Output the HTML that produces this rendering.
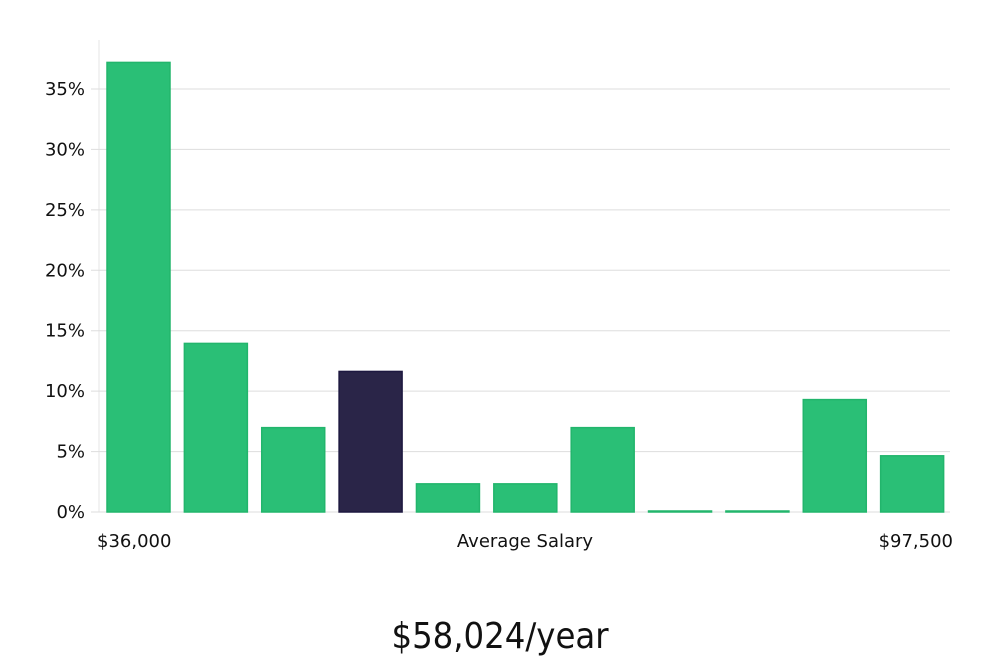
<!DOCTYPE html>
<html><head><meta charset="utf-8"><style>
body{margin:0;background:#fff;width:1000px;height:660px;overflow:hidden;font-family:"DejaVu Sans","Liberation Sans",sans-serif}
</style></head><body>
<svg width="1000" height="660">
<g id="grid"></g><g id="bars"></g><g id="labels"></g>
<text x="500" y="648" text-anchor="middle" font-size="36" fill="#111" font-family="DejaVu Sans Condensed, DejaVu Sans, sans-serif">$58,024/year</text>
</svg>
<script>
const categories=["b1","b2","b3","b4","b5","b6","b7","b8","b9","b10","b11"];
const values=[37.2,13.95,6.98,11.63,2.33,2.33,6.98,0,0,9.3,4.65];
const highlight=[false,false,false,true,false,false,false,false,false,false,false];
const yTicks=[0,5,10,15,20,25,30,35];
const yTickLabels=["0%","5%","10%","15%","20%","25%","30%","35%"];
const xLabels=["$36,000","Average Salary","$97,500"];
const NS="http://www.w3.org/2000/svg";
const x0=99,x1=950,y0=512,pxPer=(512-89)/35;
const y=v=>y0-v*pxPer;
const step=(x1-x0)/categories.length, bw=63;
function mk(t,a,p){const e=document.createElementNS(NS,t);for(const k in a)e.setAttribute(k,a[k]);p.appendChild(e);return e;}
const g=document.getElementById('grid'),b=document.getElementById('bars'),l=document.getElementById('labels');
const ax=mk('line',{x1:x0,x2:x0,y1:40,y2:y0,stroke:'#e5e5e5'},g);

yTicks.forEach((t,i)=>{
 const ln=mk('line',{x1:x0-8,x2:x1,y1:y(t),y2:y(t),stroke:'#dddddd'},g);
 
 const tx=mk('text',{x:85,y:y(t)+6,'text-anchor':'end','font-size':18,fill:'#111'},l);
 tx.textContent=yTickLabels[i];
 
});
categories.forEach((c,i)=>{
 const xs=x0+8+i*step, h=Math.max(1,values[i]*pxPer);
 const r=mk('rect',{x:xs,y:y0-h,width:bw,height:h,fill:highlight[i]?'#2a2548':'#2abf76',stroke:highlight[i]?'#1d1840':'#22b56c','stroke-width':1.5},b);
 
});
const xl=[[97,'start'],[525,'middle'],[953,'end']];
xLabels.forEach((s,i)=>{
 const tx=mk('text',{x:xl[i][0],y:547,'text-anchor':xl[i][1],'font-size':18,fill:'#111'},l);
 tx.textContent=s;
 
});
</script>
</body></html>
